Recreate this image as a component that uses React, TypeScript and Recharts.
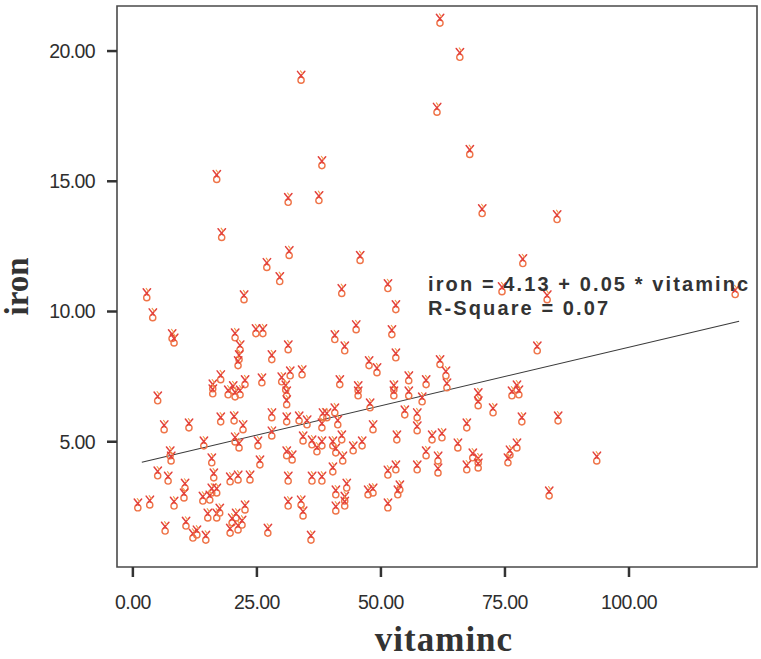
import React from "react";
import {
  ScatterChart,
  Scatter,
  XAxis,
  YAxis,
  ReferenceLine,
  ReferenceArea,
  ReferenceDot,
} from "recharts";

const vitaminc = [
  61.9, 65.9, 33.9, 61.3, 67.9, 38.1, 16.9, 31.3, 37.5, 70.4, 85.5, 17.9, 31.5, 45.8, 78.6, 27.0, 29.6, 2.8, 22.4, 42.1,
  51.4, 74.4, 83.5, 121.4, 4.0, 53.0, 7.9, 8.3, 20.6, 24.8, 26.2, 21.6, 31.3, 45.0, 40.7, 52.2, 42.7, 81.5, 21.4, 21.2,
  28.0, 53.0, 31.7, 34.1, 30.0, 17.7, 22.6, 26.0, 16.1, 20.2, 30.8, 47.6, 49.2, 61.9, 63.1, 41.7, 45.4, 52.6, 55.6, 59.1,
  63.3, 77.4, 5.0, 16.1, 20.6, 21.6, 19.2, 31.0, 31.0, 6.3, 11.3, 17.7, 20.4, 22.2, 28.0, 28.0, 31.0, 33.5, 35.1, 38.3,
  38.1, 14.3, 20.6, 21.4, 25.2, 7.5, 7.7, 34.3, 36.1, 38.1, 37.1, 31.0, 32.1, 15.9, 25.6, 5.0, 7.1, 16.3, 19.6, 21.2,
  23.6, 31.3, 36.1, 38.1, 10.5, 10.3, 1.0, 3.4, 8.3, 14.1, 15.9, 16.9, 15.5, 31.3, 33.9, 15.1, 16.9, 17.5, 20.8, 22.0,
  22.6, 20.0, 34.3, 6.5, 10.7, 12.1, 12.9, 14.7, 19.6, 21.2, 27.2, 35.9, 45.4, 52.6, 55.6, 58.3, 69.6, 69.6, 76.4, 77.8,
  47.8, 40.7, 39.1, 41.3, 54.8, 57.3, 72.6, 78.4, 48.4, 57.3, 67.3, 53.2, 60.3, 62.3, 40.3, 42.1, 40.9, 44.4, 46.2, 65.5,
  77.4, 76.0, 75.6, 42.3, 59.1, 61.5, 68.5, 69.6, 69.6, 67.3, 61.5, 57.3, 53.0, 51.4, 40.3, 43.1, 40.9, 42.7, 42.7, 47.4,
  48.4, 53.8, 53.4, 40.9, 51.4, 85.7, 93.5, 83.9,
];

const iron = [
  21.18, 19.87, 18.99, 17.76, 16.14, 15.71, 15.18, 14.3, 14.37, 13.87, 13.64, 12.95, 12.26, 12.07, 11.95, 11.8, 11.26, 10.64, 10.56, 10.8,
  10.99, 10.87, 10.56, 10.76, 9.87, 10.18, 9.07, 8.9, 9.1, 9.26, 9.26, 8.64, 8.64, 9.41, 9.03, 9.22, 8.6, 8.6, 8.26, 8.03,
  8.26, 8.33, 7.64, 7.68, 7.41, 7.49, 7.3, 7.37, 7.14, 7.07, 7.1, 8.03, 7.76, 8.07, 7.64, 7.3, 7.07, 7.1, 7.45, 7.3,
  7.18, 7.1, 6.68, 6.95, 6.83, 6.91, 6.91, 6.87, 6.53, 5.57, 5.64, 5.87, 5.91, 5.57, 6.03, 5.33, 5.87, 5.91, 5.76, 6.03,
  5.64, 4.95, 5.1, 4.87, 4.95, 4.57, 4.37, 5.14, 4.99, 4.95, 4.72, 4.57, 4.41, 4.3, 4.22, 3.8, 3.6, 3.72, 3.57, 3.64,
  3.64, 3.6, 3.6, 3.6, 3.33, 2.95, 2.57, 2.68, 2.64, 2.83, 3.14, 3.14, 2.87, 2.64, 2.68, 2.18, 2.18, 2.37, 2.18, 1.91,
  2.49, 1.99, 2.26, 1.68, 1.87, 1.41, 1.53, 1.33, 1.6, 1.72, 1.6, 1.33, 6.87, 6.87, 6.87, 6.64, 6.8, 6.49, 6.87, 6.91,
  6.41, 6.22, 6.03, 5.76, 6.14, 6.03, 6.22, 5.87, 5.57, 5.53, 5.64, 5.18, 5.18, 5.26, 4.95, 5.18, 4.68, 4.76, 4.95, 4.87,
  4.87, 4.6, 4.3, 4.37, 4.57, 4.37, 4.49, 4.3, 4.1, 4.03, 3.91, 4.03, 4.03, 3.83, 3.95, 3.33, 3.07, 2.83, 2.64, 3.07,
  3.14, 3.26, 3.07, 2.45, 2.57, 5.91, 4.37, 3.03,
];

const xTicks = [0, 25, 50, 75, 100];
const yTicks = [5, 10, 15, 20];
const xDomain = [-3.2, 125.8];
const yDomain = [0.19, 21.73];

const fitIntercept = 4.13;
const fitSlope = 0.045;
const fitFrom = 1.8;
const fitTo = 122.2;
const equationText = "iron = 4.13 + 0.05 * vitaminc";
const rSquareText = "R-Square = 0.07";
const equationAnchor = { x: 59.5, y: 10.8 };

const points = vitaminc.map((v, i) => ({ vitaminc: v, iron: iron[i] }));
const fitLine = [
  { x: fitFrom, y: fitIntercept + fitSlope * fitFrom },
  { x: fitTo, y: fitIntercept + fitSlope * fitTo },
];

const Marker = (props: any) => {
  const { cx, cy } = props;
  if (cx == null || cy == null) return null;
  return (
    <g fill="none" strokeLinecap="round">
      <circle cx={cx} cy={cy + 2.8} r={3.1} stroke="#ef7448" strokeWidth={1.4} />
      <line x1={cx - 3.6} y1={cy - 6} x2={cx + 1.4} y2={cy + 0.2} stroke="#e3413c" strokeWidth={1.5} />
      <line x1={cx + 3.8} y1={cy - 6} x2={cx - 1.8} y2={cy + 0.4} stroke="#e3413c" strokeWidth={1.5} />
      <line x1={cx - 0.6} y1={cy - 6.5} x2={cx + 1.6} y2={cy - 3.6} stroke="#f29a48" strokeWidth={1.1} />
    </g>
  );
};

const tickStyle = {
  fontFamily: "'Liberation Sans', Arial, sans-serif",
  fontSize: 19.5,
  fill: "#2e2e2e",
  letterSpacing: -0.6,
};

const fmt = (v: number) => v.toFixed(2);

export default function App() {
  return (
    <div style={{ position: "absolute", left: 0, top: 0, background: "#fff" }}>
      <ScatterChart
        width={761}
        height={659}
        margin={{ top: 6, right: 4, bottom: 0, left: 0 }}
      >
        <XAxis
          type="number"
          dataKey="vitaminc"
          domain={xDomain}
          ticks={xTicks}
          tickFormatter={fmt}
          allowDataOverflow
          height={92}
          tickSize={10}
          tickMargin={18}
          axisLine={false}
          tickLine={{ stroke: "#333", strokeWidth: 2.5 }}
          tick={tickStyle}
          label={{
            content: (p: any) => {
              const vb = p.viewBox;
              return (
                <text
                  x={vb.x + vb.width / 2 + 7}
                  y={vb.y + 84}
                  textAnchor="middle"
                  fontFamily="'Liberation Serif', 'Times New Roman', serif"
                  fontWeight="bold"
                  fontSize={35}
                  letterSpacing={1}
                  fill="#333"
                >
                  vitaminc
                </text>
              );
            },
          }}
        />
        <YAxis
          type="number"
          dataKey="iron"
          domain={yDomain}
          ticks={yTicks}
          tickFormatter={fmt}
          allowDataOverflow
          width={117}
          tickSize={10}
          tickMargin={12}
          axisLine={false}
          tickLine={{ stroke: "#333", strokeWidth: 2.5 }}
          tick={tickStyle}
          label={{
            content: (p: any) => {
              const vb = p.viewBox;
              const x = vb.x + 28;
              const y = vb.y + vb.height / 2;
              return (
                <text
                  x={x}
                  y={y}
                  textAnchor="middle"
                  transform={`rotate(-90, ${x}, ${y})`}
                  fontFamily="'Liberation Serif', 'Times New Roman', serif"
                  fontWeight="bold"
                  fontSize={33}
                  fill="#333"
                >
                  iron
                </text>
              );
            },
          }}
        />
        <ReferenceArea
          x1={xDomain[0]}
          x2={xDomain[1]}
          y1={yDomain[0]}
          y2={yDomain[1]}
          fill="none"
          stroke="#4a4a4a"
          strokeWidth={1.6}
          ifOverflow="visible"
        />
        <Scatter
          data={points}
          shape={Marker}
          isAnimationActive={false}
        />
        <ReferenceLine
          segment={fitLine}
          stroke="#3a3a3a"
          strokeWidth={1.1}
          ifOverflow="visible"
        />
        <ReferenceDot
          x={equationAnchor.x}
          y={equationAnchor.y}
          r={0}
          fill="none"
          stroke="none"
          label={{
            content: (p: any) => {
              const vb = p.viewBox;
              const x = vb.x + (vb.width || 0) / 2;
              const y = vb.y + (vb.height || 0) / 2;
              return (
                <g
                  fontFamily="'Liberation Sans', Arial, sans-serif"
                  fontWeight="bold"
                  fontSize={20}
                  letterSpacing={2.1}
                  fill="#333"
                >
                  <text x={x} y={y}>{equationText}</text>
                  <text x={x} y={y + 24}>{rSquareText}</text>
                </g>
              );
            },
          }}
        />
      </ScatterChart>
    </div>
  );
}
